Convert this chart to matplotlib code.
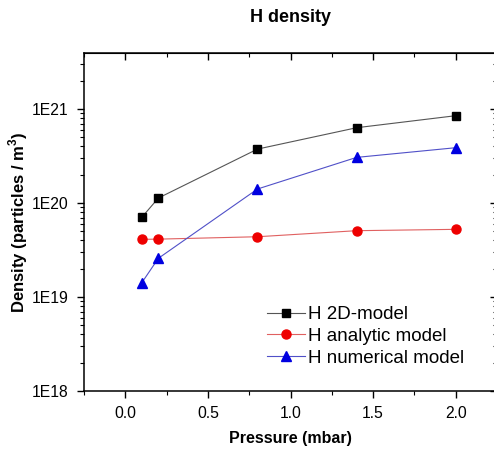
import numpy as np
import matplotlib
matplotlib.use("Agg")
import matplotlib.pyplot as plt
from matplotlib.ticker import LogLocator, NullFormatter, MultipleLocator

plt.rcParams['font.family'] = ['Liberation Sans', 'DejaVu Sans']
plt.rcParams['mathtext.fontset'] = 'custom'
plt.rcParams['mathtext.rm'] = 'Liberation Sans'
plt.rcParams['mathtext.bf'] = 'Liberation Sans:bold'

# ----------------------------
# Data
# ----------------------------
pressure = [0.1, 0.2, 0.8, 1.4, 2.0]
h_2d = [7.05e19, 1.13e20, 3.75e20, 6.33e20, 8.5e20]
h_analytic = [4.11e19, 4.13e19, 4.38e19, 5.08e19, 5.25e19]
h_numerical = [1.42e19, 2.58e19, 1.41e20, 3.06e20, 3.88e20]

y_ticks = [1e18, 1e19, 1e20, 1e21]
y_tick_labels = ["1E18", "1E19", "1E20", "1E21"]
x_ticks = [0.0, 0.5, 1.0, 1.5, 2.0]
x_tick_labels = ["0.0", "0.5", "1.0", "1.5", "2.0"]

# ----------------------------
# Figure
# ----------------------------
fig = plt.figure(figsize=(4.94, 4.5), dpi=100)
ax = fig.add_axes([84 / 494, 59 / 450, 413 / 494, 338 / 450])

ax.plot(pressure, h_2d, color="#555555", lw=0.8, marker="s", ms=5.5,
        mfc="black", mec="black", label="H 2D-model")
ax.plot(pressure, h_analytic, color="#e06060", lw=0.8, marker="o", ms=6.5,
        mfc="#ee0000", mec="#ee0000", label="H analytic model")
ax.plot(pressure, h_numerical, color="#5050c8", lw=0.8, marker="^", ms=7,
        mfc="#0000e0", mec="#0000e0", label="H numerical model")

ax.set_yscale("log")
ax.set_ylim(1e18, 3.95e21)
ax.set_xlim(-0.25, 2.25)

ax.set_yticks(y_ticks, y_tick_labels)
ax.yaxis.set_minor_locator(LogLocator(base=10, subs=np.arange(2, 10)))
ax.yaxis.set_minor_formatter(NullFormatter())
ax.set_xticks(x_ticks, x_tick_labels)
ax.xaxis.set_minor_locator(MultipleLocator(0.25))

ax.tick_params(which="major", direction="out", length=5, width=1,
               labelsize=11.3, pad=6)
ax.tick_params(which="minor", direction="out", length=3, width=0.8)
for s in ax.spines.values():
    s.set_linewidth(1.1)

# mirrored ticks pointing inward on top and right
top = ax.secondary_xaxis("top")
top.set_xticks(x_ticks)
top.xaxis.set_minor_locator(MultipleLocator(0.25))
top.tick_params(which="major", direction="in", length=5, width=1,
                labeltop=False)
top.tick_params(which="minor", direction="in", length=3, width=0.8)

right = ax.secondary_yaxis("right")
right.set_yticks(y_ticks)
right.yaxis.set_minor_locator(LogLocator(base=10, subs=np.arange(2, 10)))
right.yaxis.set_minor_formatter(NullFormatter())
right.tick_params(which="major", direction="in", length=5, width=1,
                  labelright=False)
right.tick_params(which="minor", direction="in", length=3, width=0.8)

ax.set_xlabel("Pressure (mbar)", fontsize=11.5, fontweight="bold", labelpad=7)
ax.set_ylabel(r"Density (particles / m$^\mathbf{3}$)", fontsize=12,
              fontweight="bold", labelpad=1)
fig.text(290 / 494, 1 - 18 / 450, "H density", fontsize=13, fontweight="bold",
         ha="center", va="center")

ax.legend(loc="upper left", bbox_to_anchor=(267 / 494, 1 - 306 / 450),
          bbox_transform=fig.transFigure, frameon=False, fontsize=13.5,
          handlelength=2.0, handletextpad=0.2, labelspacing=0.25,
          borderpad=0, borderaxespad=0)

plt.savefig("out.png", dpi=100)
